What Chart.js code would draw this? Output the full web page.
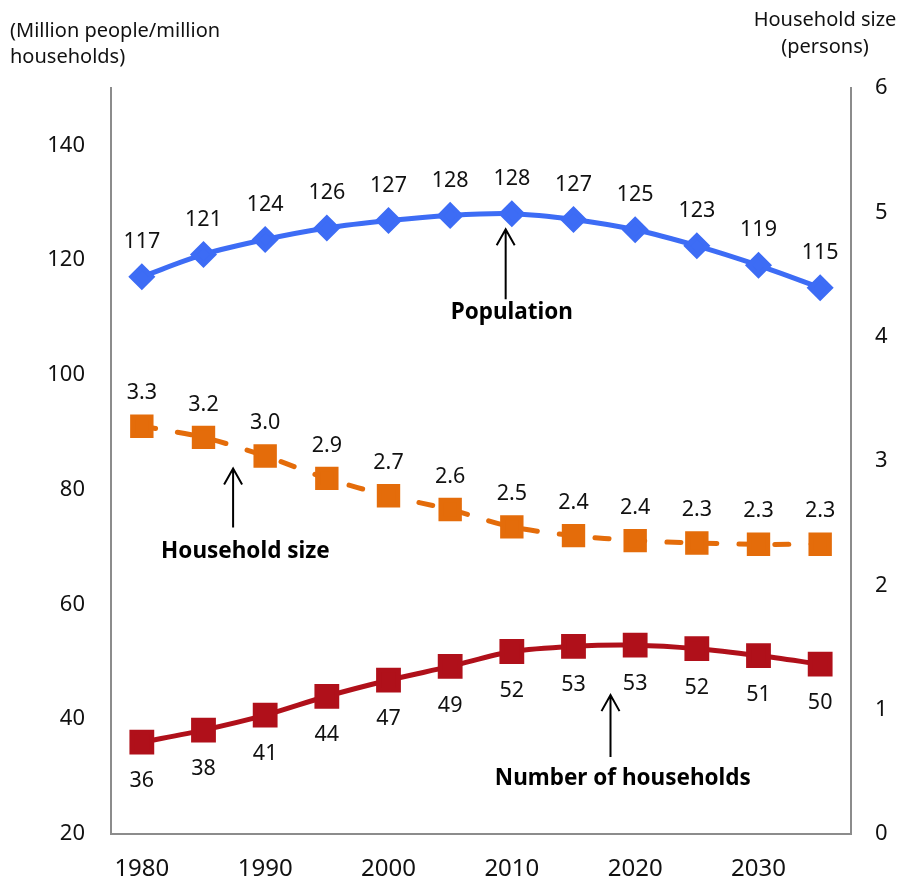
<!DOCTYPE html>
<html lang="en">
<head>
    <meta charset="UTF-8">
    <title>Population and households</title>
    <script src="https://cdn.jsdelivr.net/npm/chart.js@4.4.0/dist/chart.umd.min.js"></script>
    <style>
        body { margin: 0; background: #fff; }
        #wrap { width: 900px; height: 884px; }
    </style>
</head>
<body>
    <div id="wrap"><canvas id="chart" width="900" height="884"></canvas></div>

    <script>
        // Données
        const years = ['1980','1985','1990','1995','2000','2005','2010','2015','2020','2025','2030','2035'];
        const xTickLabels = ['1980','','1990','','2000','','2010','','2020','','2030',''];
        const population = [117.1, 121.0, 123.6, 125.6, 126.9, 127.8, 128.1, 127.1, 125.3, 122.5, 119.1, 115.2];
        const households = [36.0, 38.1, 40.7, 44.0, 46.8, 49.2, 51.8, 52.7, 52.9, 52.3, 51.1, 49.6];
        const householdSize = [3.28, 3.19, 3.04, 2.86, 2.72, 2.61, 2.47, 2.40, 2.36, 2.34, 2.33, 2.33];
        const leftTicks = [20, 40, 60, 80, 100, 120, 140];
        const rightTicks = [0, 1, 2, 3, 4, 5, 6];

        const FONT = '"Noto Sans", "Open Sans", sans-serif';
        const BLUE = '#3d6cf5';
        const ORANGE = '#e46c0a';
        const RED = '#b0101a';

        // Étiquettes de valeurs
        const valueLabels = {
            id: 'valueLabels',
            afterDatasetsDraw(chart) {
                const ctx = chart.ctx;
                ctx.save();
                ctx.font = '21.5px ' + FONT;
                ctx.fillStyle = '#111';
                ctx.textAlign = 'center';
                ctx.textBaseline = 'middle';
                chart.data.datasets.forEach((ds, di) => {
                    const meta = chart.getDatasetMeta(di);
                    meta.data.forEach((pt, i) => {
                        const v = ds.data[i];
                        const txt = ds.yAxisID === 'y2' ? v.toFixed(1) : Math.round(v).toString();
                        ctx.fillText(txt, pt.x, pt.y + ds.labelOffset);
                    });
                });
                ctx.restore();
            }
        };

        // Flèches, légendes en gras et titres d'axes
        const notes = [
            { text: 'Population', idx: 5.9, dx: 0.1, top: 125.4, bottom: 113.2, textY: 110.8 },
            { text: 'Household size', idx: 1.48, dx: 0.2, top: 83.7, bottom: 73.4, textY: 69.2 },
            { text: 'Number of households', idx: 7.6, dx: 0.2, top: 44.2, bottom: 33.4, textY: 29.6 }
        ];

        const annotations = {
            id: 'annotations',
            afterDraw(chart) {
                const ctx = chart.ctx;
                const xs = chart.scales.x;
                const ys = chart.scales.y;
                ctx.save();
                ctx.strokeStyle = '#000';
                ctx.fillStyle = '#000';
                ctx.lineWidth = 2;
                notes.forEach(n => {
                    const step = xs.getPixelForValue(1) - xs.getPixelForValue(0);
                    const x = xs.getPixelForValue(0) + step * n.idx;
                    const yt = ys.getPixelForValue(n.top);
                    const yb = ys.getPixelForValue(n.bottom);
                    ctx.beginPath();
                    ctx.moveTo(x, yb);
                    ctx.lineTo(x, yt);
                    ctx.moveTo(x - 9, yt + 16);
                    ctx.lineTo(x, yt);
                    ctx.lineTo(x + 9, yt + 16);
                    ctx.stroke();
                    ctx.font = 'bold 22.5px ' + FONT;
                    ctx.textAlign = 'center';
                    ctx.textBaseline = 'middle';
                    ctx.fillText(n.text, x + step * n.dx, ys.getPixelForValue(n.textY));
                });

                ctx.font = '20px ' + FONT;
                ctx.fillStyle = '#111';
                ctx.textBaseline = 'middle';
                ctx.textAlign = 'left';
                ctx.fillText('(Million people/million', 10, 31);
                ctx.fillText('households)', 10, 57);
                ctx.textAlign = 'center';
                ctx.fillText('Household size', 825, 20);
                ctx.fillText('(persons)', 825, 47);
                ctx.restore();
            }
        };

        new Chart(document.getElementById('chart'), {
            type: 'line',
            data: {
                labels: years,
                datasets: [
                    {
                        label: 'Population',
                        data: population,
                        yAxisID: 'y',
                        borderColor: BLUE,
                        backgroundColor: BLUE,
                        borderWidth: 5,
                        pointStyle: 'rectRot',
                        pointRadius: 10,
                        tension: 0.3,
                        labelOffset: -35
                    },
                    {
                        label: 'Household size',
                        data: householdSize,
                        yAxisID: 'y2',
                        borderColor: ORANGE,
                        backgroundColor: ORANGE,
                        borderWidth: 5,
                        borderDash: [14, 22],
                        borderCapStyle: 'round',
                        pointStyle: 'rect',
                        pointRadius: 13,
                        tension: 0.3,
                        labelOffset: -33
                    },
                    {
                        label: 'Number of households',
                        data: households,
                        yAxisID: 'y',
                        borderColor: RED,
                        backgroundColor: RED,
                        borderWidth: 5,
                        pointStyle: 'rect',
                        pointRadius: 14,
                        tension: 0.3,
                        labelOffset: 39
                    }
                ]
            },
            options: {
                responsive: false,
                animation: false,
                layout: { padding: { top: 88, left: 0, right: 0, bottom: 0 } },
                plugins: {
                    legend: { display: false },
                    tooltip: { enabled: false }
                },
                scales: {
                    x: {
                        offset: true,
                        grid: { display: false, drawTicks: false },
                        border: { display: true, color: '#8c8c8c', width: 2 },
                        ticks: {
                            autoSkip: false,
                            maxRotation: 0,
                            padding: 21,
                            color: '#111',
                            font: { family: FONT, size: 24 },
                            callback: (v, i) => xTickLabels[i]
                        },
                        afterFit: s => { s.height = 50; }
                    },
                    y: {
                        position: 'left',
                        min: 20,
                        max: 150,
                        grid: { display: false, drawTicks: false },
                        border: { display: true, color: '#8c8c8c', width: 2 },
                        afterBuildTicks: s => { s.ticks = leftTicks.map(v => ({ value: v })); },
                        ticks: {
                            padding: 26,
                            color: '#111',
                            font: { family: FONT, size: 22 }
                        },
                        afterFit: s => { s.width = 111; }
                    },
                    y2: {
                        position: 'right',
                        min: 0,
                        max: 6,
                        grid: { display: false, drawTicks: false },
                        border: { display: true, color: '#8c8c8c', width: 2 },
                        afterBuildTicks: s => { s.ticks = rightTicks.map(v => ({ value: v })); },
                        ticks: {
                            padding: 24,
                            color: '#111',
                            font: { family: FONT, size: 22 }
                        },
                        afterFit: s => { s.width = 49; }
                    }
                }
            },
            plugins: [valueLabels, annotations]
        });
    </script>
</body>
</html>
